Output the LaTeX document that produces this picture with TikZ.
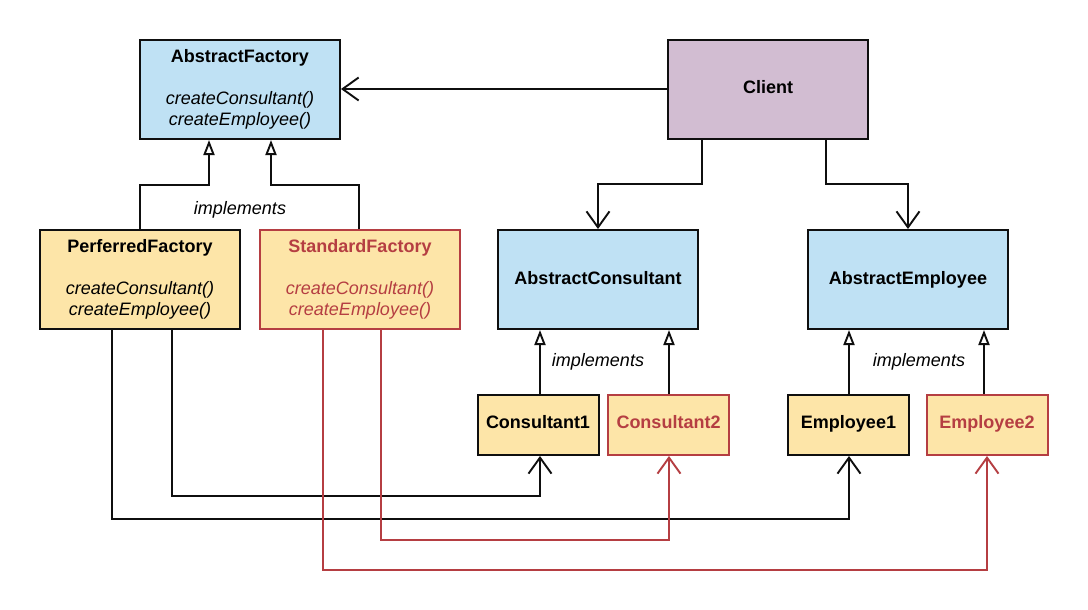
\documentclass[tikz,border=0pt]{standalone}
\usepackage{fontspec}
\setmainfont{Liberation Sans}
\usetikzlibrary{arrows.meta}
\definecolor{cblue}{RGB}{191,225,244}
\definecolor{cyel}{RGB}{253,229,168}
\definecolor{cpur}{RGB}{210,189,210}
\definecolor{cred}{RGB}{181,62,66}
\definecolor{cline}{RGB}{15,15,15}
\tikzset{
  every node/.style={font=\fontsize{18}{21}\selectfont, inner sep=0pt},
  bigbox/.style={draw=cline, line width=2pt, minimum width=200pt, minimum height=99pt},
  smallbox/.style={draw=cline, line width=2pt, minimum width=121pt, minimum height=60pt},
  redbox/.style={draw=cred, text=cred},
  conn/.style={draw=cline, line width=1.9pt},
  assoc/.style={conn, -{Straight Barb[length=16pt,width=23pt]}},
  impl/.style={conn, -{Triangle[open,length=15pt,width=11pt,fill=white]}},
  redconn/.style={assoc, draw=cred},
  ttl/.style={font=\fontsize{18}{21}\selectfont\bfseries, anchor=base},
  mth/.style={font=\fontsize{18}{21}\selectfont\itshape, anchor=base},
}
\begin{document}
\begin{tikzpicture}[x=1pt,y=-1pt]
\useasboundingbox[fill=white] (0,0) rectangle (1088,610);

% boxes
\node[bigbox, fill=cblue] (af) at (240,89.5) {};
\node[ttl] (afT) at (240,62.5) {AbstractFactory};
\node[mth] (afM1) at (240,104.5) {createConsultant()};
\node[mth] (afM2) at (240,125) {createEmployee()};

\node[bigbox, fill=cpur] (client) at (768,89.5) {};
\node[ttl] (clientT) at (768,93.5) {Client};

\node[bigbox, fill=cyel] (pf) at (140,279.5) {};
\node[ttl] (pfT) at (140,252.5) {PerferredFactory};
\node[mth] (pfM1) at (140,294.5) {createConsultant()};
\node[mth] (pfM2) at (140,315) {createEmployee()};

\node[bigbox, redbox, fill=cyel] (sf) at (360,279.5) {};
\node[ttl, text=cred] (sfT) at (360,252.5) {StandardFactory};
\node[mth, text=cred] (sfM1) at (360,294.5) {createConsultant()};
\node[mth, text=cred] (sfM2) at (360,315) {createEmployee()};

\node[bigbox, fill=cblue] (ac) at (598,279.5) {};
\node[ttl] (acT) at (598,284) {AbstractConsultant};

\node[bigbox, fill=cblue] (ae) at (908,279.5) {};
\node[ttl] (aeT) at (908,284) {AbstractEmployee};

\node[smallbox, fill=cyel] (c1) at (538,425) {};
\node[ttl] (c1T) at (538,428.5) {Consultant1};
\node[smallbox, redbox, fill=cyel] (c2) at (668.5,425) {};
\node[ttl, text=cred] (c2T) at (668.5,428.5) {Consultant2};
\node[smallbox, fill=cyel] (e1) at (848.5,425) {};
\node[ttl] (e1T) at (848.5,428.5) {Employee1};
\node[smallbox, redbox, fill=cyel] (e2) at (987,425) {};
\node[ttl, text=cred] (e2T) at (987,428.5) {Employee2};

% labels
\node[mth] (imp1) at (240,214) {implements};
\node[mth] (imp2) at (598,366) {implements};
\node[mth] (imp3) at (919,366) {implements};

% client associations
\draw[assoc] (client.west |- 0,89) -- (af.east |- 0,89);
\draw[assoc] (702,0 |- client.south) -- (702,184) -| (598,0 |- ac.north);
\draw[assoc] (826,0 |- client.south) -- (826,184) -| (908,0 |- ae.north);

% implements (factory)
\draw[impl] (140,0 |- pf.north) |- (209,185) -- (209,0 |- af.south);
\draw[impl] (359,0 |- sf.north) |- (271,185) -- (271,0 |- af.south);

% implements (products)
\draw[impl] (540,0 |- c1.north) -- (540,0 |- ac.south);
\draw[impl] (669,0 |- c2.north) -- (669,0 |- ac.south);
\draw[impl] (849,0 |- e1.north) -- (849,0 |- ae.south);
\draw[impl] (984,0 |- e2.north) -- (984,0 |- ae.south);

% creation links (black)
\draw[assoc] (172,0 |- pf.south) |- (540,496) -- (540,0 |- c1.south);
\draw[assoc] (112,0 |- pf.south) |- (849,519) -- (849,0 |- e1.south);

% creation links (red)
\draw[redconn] (381,0 |- sf.south) |- (669,540) -- (669,0 |- c2.south);
\draw[redconn] (323,0 |- sf.south) |- (987,570) -- (987,0 |- e2.south);
\end{tikzpicture}
\end{document}
